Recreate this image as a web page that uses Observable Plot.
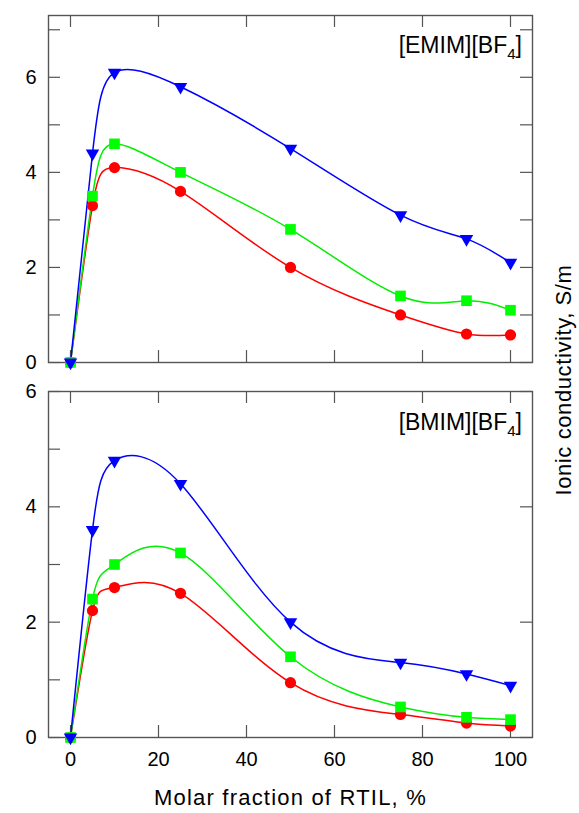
<!DOCTYPE html>
<html>
<head>
<meta charset="utf-8">
<script src="https://cdn.jsdelivr.net/npm/d3@7"></script>
<script src="https://cdn.jsdelivr.net/npm/@observablehq/plot@0.6"></script>
<style>
  html, body { margin: 0; padding: 0; background: #fff; }
  #wrap { position: relative; width: 579px; height: 813px; font-family: "Liberation Sans", Arial, sans-serif; }
  #wrap svg { overflow: visible; position: absolute; left: 0; }
  #ytitle { position: absolute; left: 564px; top: 380px; transform: translate(-50%, -50%) rotate(-90deg); white-space: nowrap; font-size: 22px; letter-spacing: 0.6px; color: #000; }
</style>
</head>
<body>
<div id="wrap"></div>
<script>
// ---- data ----
const molarFraction = [0, 5, 10, 25, 50, 75, 90, 100];
const emimBlue  = [0, 4.4, 6.1, 5.8, 4.5, 3.1, 2.6, 2.1];
const emimGreen = [0, 3.5, 4.6, 4.0, 2.8, 1.4, 1.3, 1.1];
const emimRed   = [0, 3.3, 4.1, 3.6, 2.0, 1.0, 0.6, 0.58];
const bmimBlue  = [0, 3.6, 4.8, 4.4, 2.0, 1.3, 1.1, 0.9];
const bmimGreen = [0, 2.4, 3.0, 3.2, 1.4, 0.53, 0.35, 0.31];
const bmimRed   = [0, 2.2, 2.6, 2.5, 0.95, 0.4, 0.25, 0.2];
const xTicks = [0, 20, 40, 60, 80, 100];
const yTicks = [0, 2, 4, 6];
const yMinorTop = [1, 3, 5, 7];
const yMinorBottom = [1, 3, 5];
const panelNames = ["[EMIM][BF", "[BMIM][BF"];
const panelSub = "4";
const xTitle = "Molar fraction of RTIL, %";
const yTitle = "Ionic conductivity, S/m";

const W = 579, ML = 48, MR = 47, TL = 12;
const innerW = W - ML - MR;
const frameColor = "#555";
const font = "Liberation Sans, Arial, sans-serif";

const triDown = {
  draw(ctx, size) {
    const a = Math.sqrt(4 * size / Math.sqrt(3));
    const h = a * Math.sqrt(3) / 2;
    ctx.moveTo(-a / 2, -h / 3);
    ctx.lineTo(a / 2, -h / 3);
    ctx.lineTo(0, 2 * h / 3);
    ctx.closePath();
  }
};

function rows(ys) { return molarFraction.map((x, i) => ({x, y: ys[i]})); }

function label(name, dyBase) {
  return (index, scales, values, dims) => {
    const t = d3.create("svg:text")
      .attr("x", dims.width - dims.marginRight - 10)
      .attr("y", dims.marginTop + dyBase)
      .attr("text-anchor", "end")
      .attr("font-family", font)
      .attr("font-size", 23)
      .attr("fill", "#000");
    t.append("tspan").text(name);
    t.append("tspan").attr("dy", 6).attr("font-size", 15).text(panelSub);
    t.append("tspan").attr("dy", -6).text("]");
    return t.node();
  };
}

function panel({height, mt, mb, yDomain, minor, series, name, dyLabel, showX}) {
  const innerH = height - mt - mb;
  const [red, green, blue] = series;
  const marks = [
    Plot.frame({stroke: frameColor, strokeWidth: 1.4}),
    // inward ticks
    Plot.tickX(xTicks, {x: d => d, insetTop: innerH - TL, stroke: frameColor, strokeWidth: 1.2}),
    Plot.tickX(xTicks, {x: d => d, insetBottom: innerH - TL, stroke: frameColor, strokeWidth: 1.2}),
    Plot.tickY(yTicks.concat(minor), {y: d => d, insetRight: innerW - TL, stroke: frameColor, strokeWidth: 1.2}),
    Plot.tickY(showX ? yTicks : yTicks.concat(minor), {y: d => d, insetLeft: innerW - TL, stroke: frameColor, strokeWidth: 1.2}),
    Plot.axisY(yTicks, {anchor: "left", tickSize: 0, tickPadding: 12, fontSize: 20, fill: "#000", label: null, tickFormat: d3.format("d")}),
    showX
      ? Plot.axisX(xTicks, {anchor: "bottom", tickSize: 0, tickPadding: 14, fontSize: 20, fill: "#000", label: null, tickFormat: d3.format("d")})
      : Plot.axisX({ticks: [], label: null}),
    Plot.line(rows(red),   {x: "x", y: "y", stroke: "#ff0000", strokeWidth: 1.5, curve: "natural"}),
    Plot.line(rows(green), {x: "x", y: "y", stroke: "#00ee00", strokeWidth: 1.5, curve: "natural"}),
    Plot.line(rows(blue),  {x: "x", y: "y", stroke: "#0000ff", strokeWidth: 1.5, curve: "natural"}),
    Plot.dot(rows(red),   {x: "x", y: "y", r: 5.6, fill: "#ff0000", symbol: "circle"}),
    Plot.dot(rows(green), {x: "x", y: "y", r: 6.0, fill: "#00ff00", symbol: "square"}),
    Plot.dot(rows(blue),  {x: "x", y: "y", r: 5.0, fill: "#0000ff", symbol: triDown}),
    label(name, dyLabel)
  ];
  if (showX) {
    marks.push(Plot.text([xTitle], {frameAnchor: "bottom", dy: 60, fontSize: 22, fill: "#000", text: d => d, lineAnchor: "middle"}));
  }
  return Plot.plot({
    width: W, height,
    marginLeft: ML, marginRight: MR, marginTop: mt, marginBottom: mb,
    style: {fontFamily: font, background: "transparent", overflow: "visible"},
    x: {domain: [-5, 105]},
    y: {domain: yDomain},
    marks
  });
}

const wrap = document.getElementById("wrap");
const top1 = panel({height: 380, mt: 15, mb: 18, yDomain: [0, 7.3], minor: yMinorTop,
  series: [emimRed, emimGreen, emimBlue], name: panelNames[0], dyLabel: 38, showX: false});
top1.style.top = "0px";
const bot = panel({height: 451, mt: 29, mb: 76, yDomain: [0, 6], minor: yMinorBottom,
  series: [bmimRed, bmimGreen, bmimBlue], name: panelNames[1], dyLabel: 39, showX: true});
bot.style.top = "362px";
bot.querySelectorAll("text").forEach(t => { if (t.textContent === xTitle) t.setAttribute("letter-spacing", "1.2"); });
wrap.appendChild(top1);
wrap.appendChild(bot);
const yt = document.createElement("div");
yt.id = "ytitle";
yt.textContent = yTitle;
wrap.appendChild(yt);
</script>
</body>
</html>
